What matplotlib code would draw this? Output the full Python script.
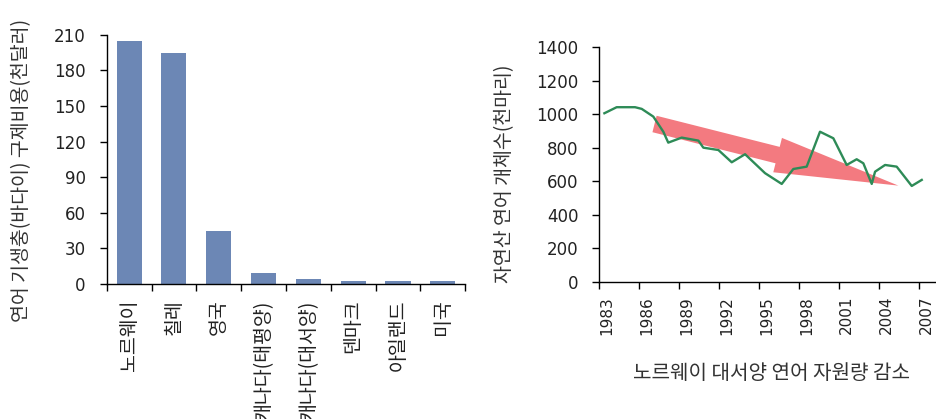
import matplotlib
matplotlib.use("Agg")
import matplotlib.pyplot as plt

plt.rcParams['font.family'] = ['DejaVu Sans', 'Noto Sans CJK KR']

# 연어 기생충(바다이) 구제비용, 국가별 (천달러)
countries = ['노르웨이', '칠레', '영국', '캐나다(태평양)', '캐나다(대서양)', '덴마크', '아일랜드', '미국']
costs = [205, 195, 45, 9, 4.5, 2.5, 2.2, 2.2]

# 노르웨이 자연산 연어 개체수 (천마리)
years = [1983.38, 1984.3, 1985.68, 1986.18, 1987.05, 1987.8, 1988.17, 1989.18,
         1990.43, 1990.8, 1991.93, 1992.93, 1993.93, 1995.43, 1996.68, 1997.55,
         1998.55, 1999.55, 2000.55, 2001.55, 2002.3, 2002.8, 2003.43, 2003.68,
         2004.43, 2005.3, 2006.43, 2007.18]
salmon = [1005, 1041, 1041, 1031, 985, 895, 830, 860,
          842, 800, 786, 713, 761, 648, 584, 673,
          687, 895, 856, 697, 731, 707, 584, 657,
          697, 687, 572, 608]
year_ticks = [1983, 1986, 1989, 1992, 1995, 1998, 2001, 2004, 2007]

# 감소 추세 화살표 (시작, 끝)
trend_start = (1987.14, 941)
trend_end = (2005.43, 574)

fig = plt.figure(figsize=(9.36, 4.19), dpi=100)
ax1 = fig.add_axes([0.114, 0.322, 0.383, 0.595])
ax2 = fig.add_axes([0.6403, 0.327, 0.359, 0.561])

text_color = '#222222'
kr = ['Noto Sans CJK KR', 'DejaVu Sans']

# --- 막대 그래프 ---
xpos = list(range(len(countries)))
ax1.bar(xpos, costs, width=0.56, color='#6C87B5')
ax1.set_xlim(-0.5, len(countries) - 0.5)
ax1.set_ylim(0, 210)
ax1.set_yticks(range(0, 211, 30))
ax1.set_xticks([i - 0.5 for i in range(len(countries) + 1)])
ax1.set_xticklabels([])
ax1.set_xticks(xpos, minor=True)
ax1.set_xticklabels(countries, minor=True, rotation=90, ha='center', va='top',
                    fontsize=14, color=text_color, family=kr)
ax1.tick_params(axis='x', which='minor', length=0, pad=11)
ax1.tick_params(axis='x', which='major', direction='out', length=5, width=1)
ax1.tick_params(axis='y', direction='out', length=5, width=1, pad=10,
                labelsize=12, labelcolor=text_color)
ax1.set_ylabel('연어 기생충(바다이) 구제비용(천달러)', fontsize=14, color='#333333', family=kr)
ax1.yaxis.set_label_coords(-0.2085, 0.455)

# --- 개체수 추이 ---
ax2.annotate('', xy=trend_end, xytext=trend_start,
             arrowprops=dict(arrowstyle='simple,head_length=8.97,head_width=2.55,tail_width=1.22',
                             mutation_scale=10, color='#F37A80', lw=0,
                             shrinkA=0, shrinkB=0), zorder=1)
ax2.plot(years, salmon, color='#2E8B57', lw=1.7, zorder=3)
ax2.set_xlim(1983, 2008.2)
ax2.set_ylim(0, 1400)
ax2.set_yticks(range(0, 1401, 200))
ax2.set_xticks(year_ticks)
ax2.set_xticklabels([str(y) for y in year_ticks], rotation=90, ha='left', va='top',
                    fontsize=11, color=text_color)
ax2.tick_params(axis='x', direction='out', length=5, width=1, pad=5)
ax2.tick_params(axis='y', direction='out', length=5, width=1, pad=10,
                labelsize=12, labelcolor=text_color)
ax2.set_ylabel('자연산 연어 개체수(천마리)', fontsize=14, color='#333333', family=kr)
ax2.yaxis.set_label_coords(-0.251, 0.462)
ax2.set_xlabel('노르웨이 대서양 연어 자원량 감소', fontsize=14.5, color='#333333', family=kr)
ax2.xaxis.set_label_coords(0.511, -0.343)

for ax in (ax1, ax2):
    ax.spines['top'].set_visible(False)
    ax.spines['right'].set_visible(False)
    ax.spines['left'].set_linewidth(1)
    ax.spines['bottom'].set_linewidth(1)

fig.savefig('out.png', dpi=100)
